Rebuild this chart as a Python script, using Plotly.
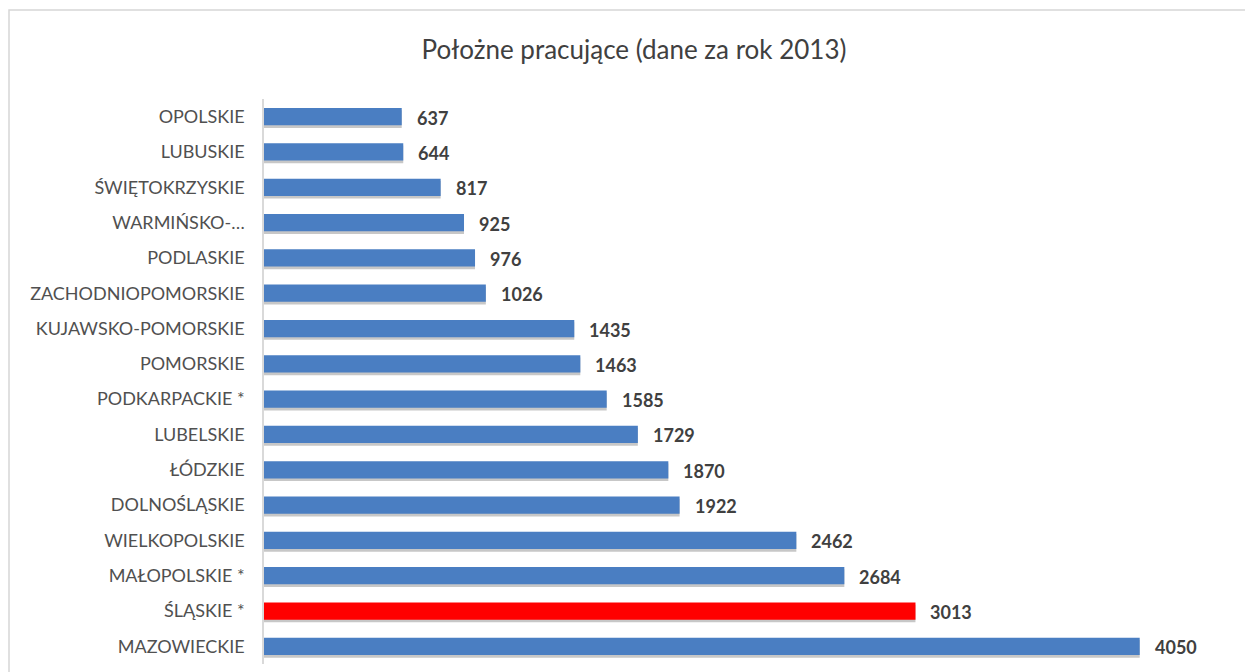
import plotly.graph_objects as go

regions = ["OPOLSKIE", "LUBUSKIE", "ŚWIĘTOKRZYSKIE", "WARMIŃSKO-…", "PODLASKIE",
           "ZACHODNIOPOMORSKIE", "KUJAWSKO-POMORSKIE", "POMORSKIE", "PODKARPACKIE *",
           "LUBELSKIE", "ŁÓDZKIE", "DOLNOŚLĄSKIE", "WIELKOPOLSKIE", "MAŁOPOLSKIE *",
           "ŚLĄSKIE *", "MAZOWIECKIE"]
midwives = [637, 644, 817, 925, 976, 1026, 1435, 1463, 1585, 1729, 1870, 1922,
            2462, 2684, 3013, 4050]
highlight = "ŚLĄSKIE *"

BLUE = "#4A7EC2"
RED = "#FF0000"
colors = [RED if r == highlight else BLUE for r in regions]

W, H = 1245, 672
L, R, T, B = 264, 8, 99, 8
XMAX = 4500
FONT = "Lato, 'Open Sans', sans-serif"

fig = go.Figure()
# soft shadow under bars
fig.add_trace(go.Bar(
    y=regions, x=midwives, orientation="h", width=0.5, offset=-0.18,
    marker=dict(color="rgba(0,0,0,0.22)", line=dict(width=0)),
    hoverinfo="skip", showlegend=False,
))
fig.add_trace(go.Bar(
    y=regions, x=midwives, orientation="h", width=0.49,
    marker=dict(color=colors, line=dict(width=0)),
    showlegend=False,
))

for r, v in zip(regions, midwives):
    fig.add_annotation(x=v, y=r, text=str(v), showarrow=False, xanchor="left",
                       xshift=13, yshift=-1,
                       font=dict(family=FONT, size=18, color="#404040", weight="bold"))

pw = W - L - R
ph = H - T - B
fig.add_shape(type="rect", xref="paper", yref="paper",
              x0=(9 - L) / pw, x1=(W + 20 - L) / pw,
              y0=-(20 + B) / ph, y1=1 + (T - 10) / ph,
              line=dict(color="#D6D6D6", width=1.5), fillcolor="rgba(0,0,0,0)", layer="below")

fig.update_layout(
    width=W, height=H,
    margin=dict(l=L, r=R, t=T, b=B),
    paper_bgcolor="white", plot_bgcolor="white",
    barmode="overlay",
    title=dict(text="Położne pracujące (dane za rok 2013)",
               x=634 / W, xanchor="center", xref="container",
               y=1 - 50 / H, yanchor="middle", yref="container",
               font=dict(family=FONT, size=26, color="#404040")),
    xaxis=dict(range=[0, XMAX], visible=False, showgrid=False, zeroline=False),
    yaxis=dict(autorange="reversed", showline=True, linecolor="#D9D9D9", linewidth=1.5,
               showgrid=False, ticks="", ticklabelstandoff=14,
               tickfont=dict(family=FONT, size=18, color="#505050")),
)

fig.write_html("out.html", config={"displayModeBar": False},
               post_script="document.body.style.margin='0';")
